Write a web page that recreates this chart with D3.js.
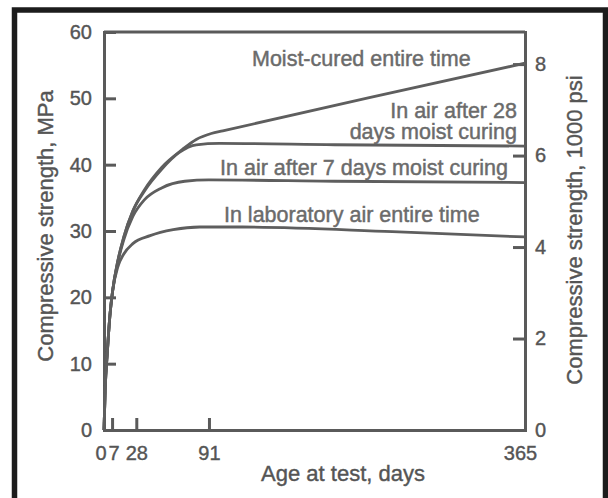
<!DOCTYPE html>
<html>
  <head>
    <meta charset="UTF-8" />
    <title>Compressive strength vs age</title>
    <style>
      body { margin: 0; background: #fff; }
      svg { display: block; }
      text { font-family: "Liberation Sans", Arial, Helvetica, sans-serif; }
      .axis path, .axis line { stroke: #5a5a5a; stroke-width: 3; }
      .axis text { fill: #555; font-size: 20px; stroke: #555; stroke-width: 0.4; }
      .curve { fill: none; stroke: #5e5e5e; stroke-width: 2.8; stroke-linejoin: round; }
      .note { fill: #6b6b6b; font-size: 21.5px; stroke: #6b6b6b; stroke-width: 0.45; }
      .title { fill: #555; font-size: 22px; stroke: #555; stroke-width: 0.4; }
    </style>
  </head>
  <body>
    <div id="chart"></div>
    <script src="https://cdnjs.cloudflare.com/ajax/libs/d3/7.8.5/d3.min.js"></script>
    <script>
// age in days, strength in MPa
const moistCured = [[0, 0], [1, 6], [3, 12], [5, 17], [7.5, 21], [12, 25.5], [17, 29], [25, 33], [35, 36.2],
                    [50, 39.6], [68, 42.3], [80, 43.8], [93, 44.7], [103, 45.1], [230, 50.1], [365, 55.3]];
const air28 = [[0, 0], [1, 6], [3, 12], [5, 17], [7.5, 21], [12, 25.5], [17, 29], [25, 33], [35, 36],
               [50, 39.3], [65, 41.8], [80, 43], [100, 43.2], [200, 43], [365, 42.8]];
const air7 = [[0, 0], [1, 6], [3, 12], [5, 17], [7.5, 21], [12, 25.3], [17, 28.6], [25, 32.2], [35, 34.7],
              [50, 36.5], [70, 37.5], [91, 37.7], [200, 37.5], [365, 37.3]];
const labAir = [[0, 0], [1, 6], [3, 12], [5, 17], [7.5, 21], [12, 24.6], [17, 26.5], [25, 28.1], [40, 29.3],
                [60, 30.2], [83, 30.6], [120, 30.6], [250, 29.9], [365, 29.1]];

const ageTicks = [0, 7, 28, 91, 365];
const mpaTicks = [0, 10, 20, 30, 40, 50, 60];
const psiTicks = [0, 2, 4, 6, 8];
const mpaPerKsi = 6.895;

const W = 608, H = 498;
const svg = d3.select('#chart').append('svg')
  .attr('width', W)
  .attr('height', H);

// black frame round the figure
svg.append('path')
  .attr('d', 'M14.5,' + (H + 10) + 'V10H605.5V' + (H + 10))
  .attr('fill', 'none')
  .attr('stroke', '#1c1c1c')
  .attr('stroke-width', 5.5);

const x = d3.scaleLinear().domain([0, 365]).range([104, 525]);
const y = d3.scaleLinear().domain([0, 60]).range([430, 32]);
const yPsi = d3.scaleLinear().domain([0, 60 / mpaPerKsi]).range([430, 32]);

// top edge of the plot box
svg.append('line')
  .attr('x1', x(0)).attr('x2', x(365))
  .attr('y1', y(60)).attr('y2', y(60))
  .attr('stroke', '#5a5a5a')
  .attr('stroke-width', 3);

svg.append('g')
  .attr('class', 'axis')
  .attr('transform', `translate(${x(0)},0)`)
  .call(d3.axisLeft(y).tickValues(mpaTicks).tickSizeInner(-12).tickSizeOuter(0).tickPadding(12));

svg.append('g')
  .attr('class', 'axis')
  .attr('transform', `translate(${x(365)},0)`)
  .call(d3.axisRight(yPsi).tickValues(psiTicks).tickSizeInner(-12).tickSizeOuter(0).tickPadding(10));

const xAxis = svg.append('g')
  .attr('class', 'axis')
  .attr('transform', `translate(0,${y(0)})`)
  .call(d3.axisBottom(x).tickValues(ageTicks).tickSizeInner(-12).tickSizeOuter(0).tickPadding(16));

// 0 and 7 sit very close, push them apart like the original
xAxis.selectAll('.tick text')
  .attr('text-anchor', d => d === 0 ? 'end' : d === 7 ? 'start' : 'middle')
  .attr('dx', d => d === 0 ? 2 : d === 7 ? -4 : d === 365 ? -5 : 0);

svg.selectAll('.axis .domain').attr('stroke-linecap', 'square');
svg.selectAll('.axis text').attr('font-family', null).attr('font-size', null).attr('fill', null);

const line = d3.line()
  .x(d => x(d[0]))
  .y(d => y(d[1]))
  .curve(d3.curveMonotoneX);

svg.append('g')
  .selectAll('path')
  .data([labAir, air7, air28, moistCured])
  .enter()
  .append('path')
  .attr('class', 'curve')
  .attr('d', line);

// curve labels
const notes = svg.append('g').attr('class', 'note');
notes.append('text').attr('x', x(128.3)).attr('y', y(54.8)).text('Moist-cured entire time');
notes.append('text').attr('x', x(358)).attr('y', y(47.1)).attr('text-anchor', 'end').text('In air after 28');
notes.append('text').attr('x', x(358)).attr('y', y(43.8)).attr('text-anchor', 'end').text('days moist curing');
notes.append('text').attr('x', x(100.6)).attr('y', y(38.4)).text('In air after 7 days moist curing');
notes.append('text').attr('x', x(104)).attr('y', y(31.4)).text('In laboratory air entire time');

// axis titles
svg.append('text')
  .attr('class', 'title')
  .attr('x', 343).attr('y', 481)
  .attr('text-anchor', 'middle')
  .text('Age at test, days');

svg.append('text')
  .attr('class', 'title')
  .attr('transform', 'translate(53,226) rotate(-90)')
  .attr('text-anchor', 'middle')
  .text('Compressive strength, MPa');

svg.append('text')
  .attr('class', 'title')
  .attr('transform', 'translate(582,230) rotate(-90)')
  .attr('text-anchor', 'middle')
  .text('Compressive strength, 1000 psi');
    </script>
  </body>
</html>
